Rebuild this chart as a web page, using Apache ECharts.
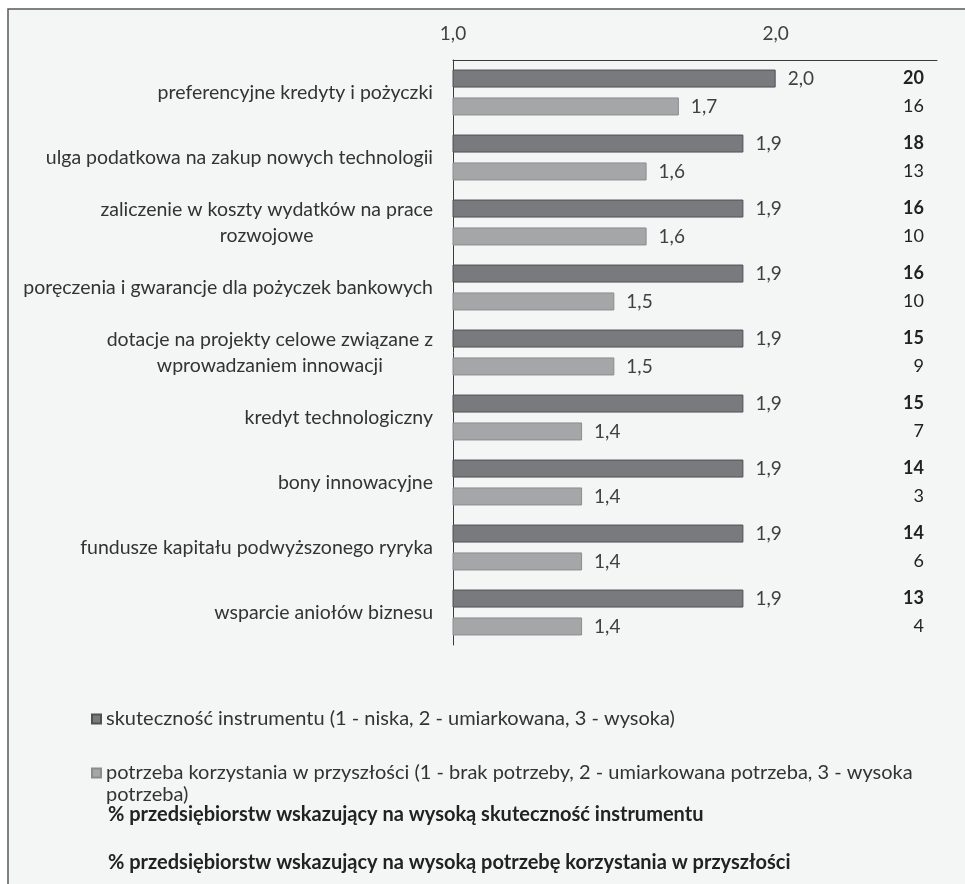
<!DOCTYPE html>
<html>
<head>
<meta charset="utf-8">
<script src="https://cdn.jsdelivr.net/npm/echarts@6/dist/echarts.min.js"></script>
<style>
  html, body { margin: 0; padding: 0; background: #fff; }
  #chart { width: 965px; height: 884px; }
</style>
</head>
<body>
<div id="chart"></div>
<script>
// kategorie (od góry)
var categories = [
    'preferencyjne kredyty i pożyczki',
    'ulga podatkowa na zakup nowych technologii',
    'zaliczenie w koszty wydatków na prace\nrozwojowe',
    'poręczenia i gwarancje dla pożyczek bankowych',
    'dotacje na projekty celowe związane z\nwprowadzaniem innowacji',
    'kredyt technologiczny',
    'bony innowacyjne',
    'fundusze kapitału podwyższonego ryryka',
    'wsparcie aniołów biznesu'
];
// średnie oceny
var skutecznosc = [2.0, 1.9, 1.9, 1.9, 1.9, 1.9, 1.9, 1.9, 1.9];
var potrzeba = [1.7, 1.6, 1.6, 1.5, 1.5, 1.4, 1.4, 1.4, 1.4];
// % przedsiębiorstw
var procSkutecznosc = [20, 18, 16, 16, 15, 15, 14, 14, 13];
var procPotrzeba = [16, 13, 10, 10, 9, 7, 3, 6, 4];

var names = [
    'skuteczność instrumentu (1 - niska, 2 - umiarkowana, 3 - wysoka)',
    'potrzeba korzystania w przyszłości (1 - brak potrzeby, 2 - umiarkowana potrzeba, 3 - wysoka\npotrzeba)',
    '% przedsiębiorstw wskazujący na wysoką skuteczność instrumentu',
    '% przedsiębiorstw wskazujący na wysoką potrzebę korzystania w przyszłości'
];

var xMin = 1, xMax = 2.5;
var font = 'Lato';

function fmt(v) {
    return v.toFixed(1).replace('.', ',');
}

var chart = echarts.init(document.getElementById('chart'));

var option = {
    backgroundColor: '#ffffff',
    textStyle: { fontFamily: font },
    animation: false,
    //ramka
    graphic: [{
        type: 'rect',
        z: -10,
        shape: { x: 8, y: 9, width: 1000, height: 1000 },
        style: { fill: '#f4f5f5', stroke: '#5a5a5a', lineWidth: 1.5 }
    }],
    grid: {
        left: 453,
        right: 28,
        top: 60,
        bottom: 239
    },
    legend: [
        {
            data: [names[0]], left: 91, top: 708, padding: 0,
            itemWidth: 9, itemHeight: 9, icon: 'rect',
            textStyle: { fontFamily: font, fontSize: 20, lineHeight: 22, color: '#333' },
            selectedMode: false
        },
        {
            // pusta linia na początku, żeby ikona była przy pierwszej linii tekstu
            data: [names[1]], left: 91, top: 740, padding: 0,
            itemWidth: 9, itemHeight: 9, icon: 'rect',
            formatter: function (n) { return ' \n' + n; },
            textStyle: { fontFamily: font, fontSize: 20, lineHeight: 22, color: '#333' },
            selectedMode: false
        },
        {
            data: [{ name: names[2], icon: 'none' }], left: 94, top: 804, padding: 0,
            itemWidth: 9, itemHeight: 9,
            textStyle: { fontFamily: font, fontSize: 20, lineHeight: 22, color: '#222', fontWeight: 'bold' },
            selectedMode: false
        },
        {
            data: [{ name: names[3], icon: 'none' }], left: 94, top: 852, padding: 0,
            itemWidth: 9, itemHeight: 9,
            textStyle: { fontFamily: font, fontSize: 20, lineHeight: 22, color: '#222', fontWeight: 'bold' },
            selectedMode: false
        }
    ],
    xAxis: {
        type: 'value',
        position: 'top',
        min: xMin,
        max: xMax,
        interval: 1,
        axisLine: { show: true, lineStyle: { color: '#3a3a3a', width: 1 } },
        axisTick: { show: false },
        splitLine: { show: false },
        axisLabel: {
            margin: 17,
            fontSize: 19,
            color: '#404040',
            showMaxLabel: false,
            formatter: function (v) {
                return v % 1 === 0 ? fmt(v) : '';
            }
        }
    },
    yAxis: {
        type: 'category',
        inverse: true,
        data: categories,
        axisLine: { show: true, lineStyle: { color: '#3a3a3a', width: 1 } },
        axisTick: { show: false },
        axisLabel: {
            margin: 20,
            fontSize: 19.5,
            color: '#333',
            lineHeight: 26,
            formatter: function (v) {
                return v.split('\n').map(function (s) { return '{c|' + s + '}'; }).join('\n');
            },
            rich: {
                c: { align: 'center', fontSize: 19.5, lineHeight: 26, color: '#333', fontFamily: font }
            }
        }
    },
    series: [
        {
            name: names[0],
            type: 'bar',
            stack: 'a',
            barWidth: 18,
            barGap: '55%',
            data: skutecznosc,
            itemStyle: { color: '#797a7e', borderColor: '#505154', borderWidth: 1 },
            label: {
                show: true, position: 'right', distance: 12,
                fontSize: 19, color: '#404040',
                formatter: function (p) { return fmt(p.value); }
            }
        },
        {
            name: names[1],
            type: 'bar',
            stack: 'b',
            barWidth: 18,
            data: potrzeba,
            itemStyle: { color: '#a4a6a8', borderColor: '#8a8c8e', borderWidth: 1 },
            label: {
                show: true, position: 'right', distance: 12,
                fontSize: 19, color: '#404040',
                formatter: function (p) { return fmt(p.value); }
            }
        },
        {
            // niewidoczny słupek do prawej krawędzi, tylko etykieta %
            name: names[2],
            type: 'bar',
            stack: 'a',
            barWidth: 18,
            silent: true,
            data: skutecznosc.map(function (v) { return +(xMax - v).toFixed(2); }),
            itemStyle: { color: 'transparent' },
            label: {
                show: true, position: 'insideRight', distance: 13,
                fontSize: 18, color: '#222', fontWeight: 'bold',
                formatter: function (p) { return procSkutecznosc[p.dataIndex]; }
            }
        },
        {
            name: names[3],
            type: 'bar',
            stack: 'b',
            barWidth: 18,
            silent: true,
            data: potrzeba.map(function (v) { return +(xMax - v).toFixed(2); }),
            itemStyle: { color: 'transparent' },
            label: {
                show: true, position: 'insideRight', distance: 13,
                fontSize: 18, color: '#222',
                formatter: function (p) { return procPotrzeba[p.dataIndex]; }
            }
        }
    ]
};

chart.setOption(option);

window.addEventListener('resize', function () {
    chart.resize();
});
</script>
</body>
</html>
